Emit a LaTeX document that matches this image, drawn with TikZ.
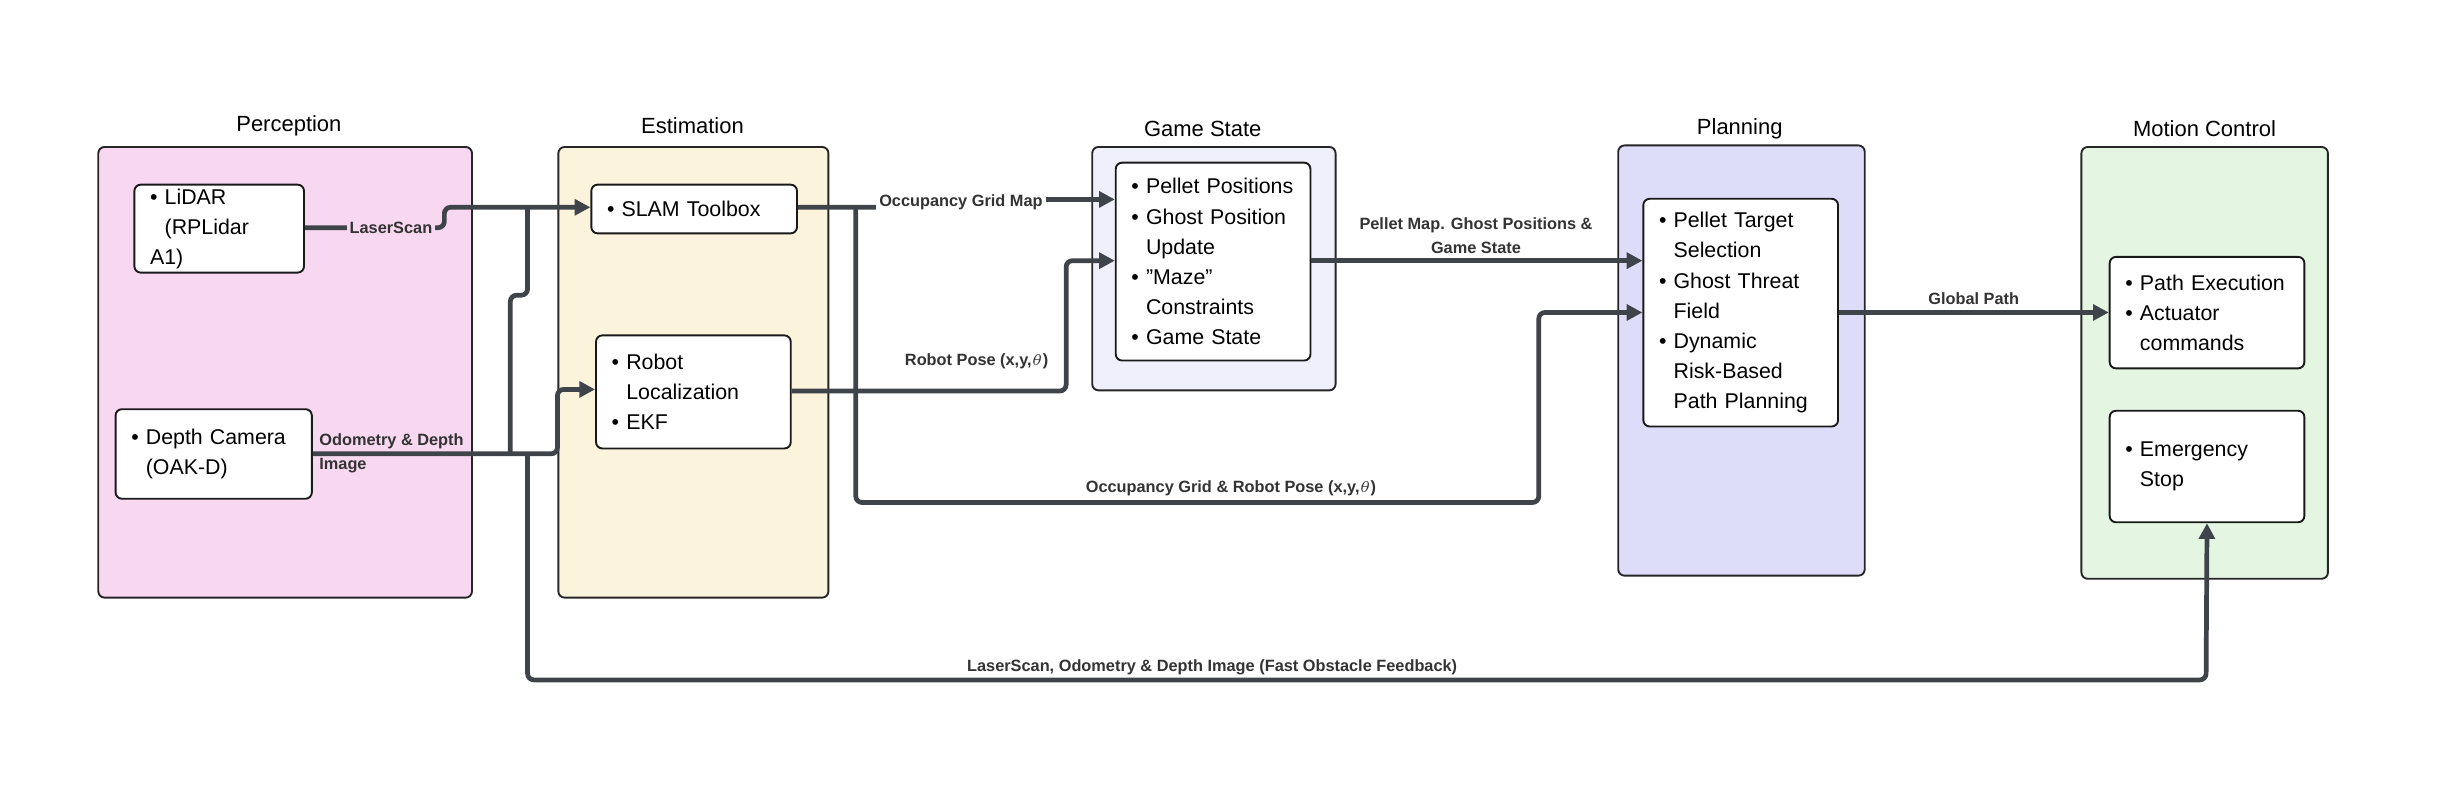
\documentclass[tikz,border=0pt]{standalone}
\usepackage{fontspec}
\setmainfont{Liberation Sans}
\usetikzlibrary{arrows.meta}
\newcommand\bl{\textbullet\ }
\newcommand\ind{\phantom{\textbullet\ }}
\definecolor{ln}{HTML}{3F434A}
\definecolor{cP}{HTML}{F8D7F1}
\definecolor{cE}{HTML}{FBF3DC}
\definecolor{cG}{HTML}{F0F0FC}
\definecolor{cL}{HTML}{DDDDFA}
\definecolor{cM}{HTML}{E4F6E2}
\begin{document}
\begin{tikzpicture}[x=0.5pt,y=-0.5pt,
 group/.style={draw=black!85,line width=0.6pt,rounded corners=2pt,anchor=north west,inner sep=0pt},
 box/.style={draw=black!90,fill=white,line width=0.6pt,rounded corners=2pt,anchor=north west,align=left,inner xsep=5pt,inner ysep=0pt,font=\fontsize{6.8}{9.6}\selectfont},
 ttl/.style={font=\fontsize{7}{8}\selectfont},
 lab/.style={font=\bfseries\fontsize{5.2}{7.5}\selectfont,text=black!80,align=center,inner sep=1pt},
 con/.style={draw=ln,line width=1.5pt,rounded corners=2pt},
 arr/.style={con,-{Triangle[length=5pt,width=5pt]}}]
\useasboundingbox (0,0) rectangle (1568,511);
% groups
\node[group,fill=cP,minimum width=119pt,minimum height=143.5pt] (gP) at (62,93) {};
\node[group,fill=cE,minimum width=86pt,minimum height=143.5pt] (gE) at (355,93) {};
\node[group,fill=cG,minimum width=77.5pt,minimum height=77.5pt] (gG) at (695,93) {};
\node[group,fill=cL,minimum width=78.5pt,minimum height=137pt] (gL) at (1030,92) {};
\node[group,fill=cM,minimum width=78.5pt,minimum height=137.5pt] (gM) at (1325,93) {};
\node[ttl] (tP) at (184,80) {Perception};
\node[ttl] (tE) at (441,80) {Estimation};
\node[ttl] (tG) at (766,82) {Game State};
\node[ttl] (tL) at (1108,82) {Planning};
\node[ttl] (tM) at (1404,82) {Motion Control};
% boxes
\node[box,text width=44pt,minimum height=28pt] (lidar) at (85,117) {\bl LiDAR\\\ind(RPLidar A1)};
\node[box,text width=52.5pt,minimum height=28.5pt] (cam) at (73,260) {\bl Depth Camera\\\ind(OAK-D)};
\node[box,text width=55.5pt,minimum height=15.5pt] (slam) at (376,117) {\bl SLAM Toolbox};
\node[box,text width=52pt,minimum height=36pt] (loc) at (379,213) {\bl Robot\\\ind Localization\\\bl EKF};
\node[box,text width=52pt,minimum height=63pt] (gs) at (710,103) {\bl Pellet Positions\\\bl Ghost Position\\\ind Update\\\bl "Maze"\\\ind Constraints\\\bl Game State};
\node[box,text width=52pt,minimum height=72.5pt] (plan) at (1046,126) {\bl Pellet Target\\\ind Selection\\\bl Ghost Threat\\\ind Field\\\bl Dynamic\\\ind Risk-Based\\\ind Path Planning};
\node[box,text width=52pt,minimum height=35.5pt] (exec) at (1343,163) {\bl Path Execution\\\bl Actuator\\\ind commands};
\node[box,text width=52pt,minimum height=35.5pt] (stop) at (1343,261) {\bl Emergency\\\ind Stop};
% connectors
\draw[arr] (lidar.east|-0,145) -- (283,145) -- (283,132) -- (slam.west|-0,132);
\draw[arr] (cam.east|-0,289) -- (355,289) -- (355,248) -- (loc.west|-0,248);
\draw[con] (325,289) -- (325,188) -- (336,188) -- (336,132);
\draw[arr] (336,289) -- (336,433) -- (1405,433) -- (stop.south);
\draw[arr] (slam.east|-0,132) -- (610,132) -- (610,127) -- (gs.west|-0,127);
\draw[arr] (545,132) -- (545,320) -- (980,320) -- (980,199) -- (plan.west|-0,199);
\draw[arr] (loc.east|-0,249) -- (679,249) -- (679,166) -- (gs.west|-0,166);
\draw[arr] (gs.east|-0,166) -- (plan.west|-0,166);
\draw[arr] (plan.east|-0,199) -- (exec.west|-0,199);
% labels
\node[lab,fill=cP] (l1) at (249,145) {LaserScan};
\node[lab,align=left,anchor=north west] (l2) at (201,274) {Odometry \& Depth\\Image};
\node[lab,fill=white] (l3) at (612,129) {Occupancy Grid Map};
\node[lab] (l4) at (622,230) {Robot Pose (x,y,$\theta$)};
\node[lab] (l5) at (940,150) {Pellet Map. Ghost Positions \&\\Game State};
\node[lab] (l6) at (784,311) {Occupancy Grid \& Robot Pose (x,y,$\theta$)};
\node[lab] (l7) at (1257,190) {Global Path};
\node[lab] (l8) at (772,425) {LaserScan, Odometry \& Depth Image (Fast Obstacle Feedback)};
\end{tikzpicture}
\end{document}
